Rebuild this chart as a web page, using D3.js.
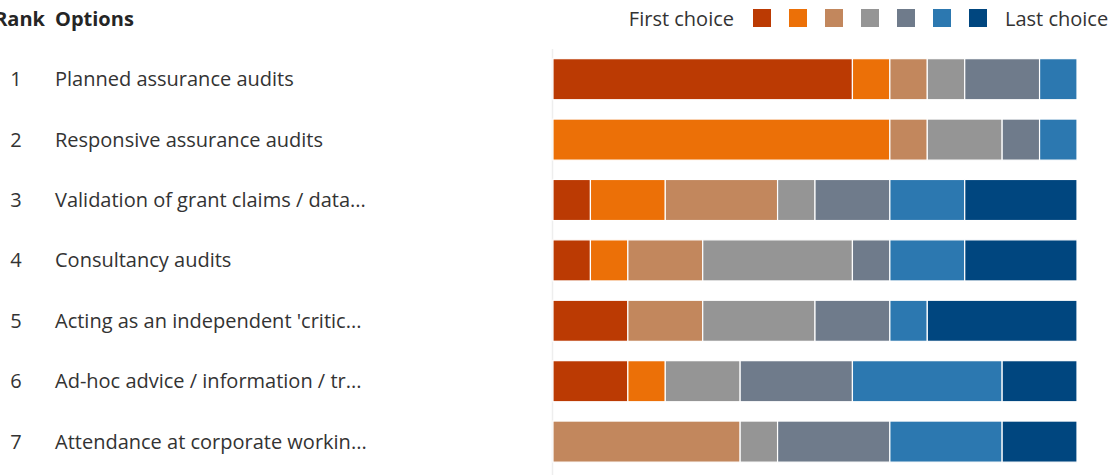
<!DOCTYPE html>
<html>
<head>
<meta charset="utf-8">
<script src="https://cdn.jsdelivr.net/npm/d3@7"></script>
<style>
  html, body { margin: 0; padding: 0; background: #fff; }
  svg { display: block; font-family: "Open Sans", "Noto Sans", sans-serif; }
</style>
</head>
<body>
<svg id="chart" width="1118" height="475"></svg>
<script>
// Ranked options, with respondent counts per rank position (first choice → last choice)
const ranks = [1, 2, 3, 4, 5, 6, 7];
const options = [
  "Planned assurance audits",
  "Responsive assurance audits",
  "Validation of grant claims / data...",
  "Consultancy audits",
  "Acting as an independent 'critic...",
  "Ad-hoc advice / information / tr...",
  "Attendance at corporate workin..."
];
const choiceKeys = ["c1", "c2", "c3", "c4", "c5", "c6", "c7"];
const choice1 = [8, 0, 1, 1, 2, 2, 0];
const choice2 = [1, 9, 2, 1, 0, 1, 0];
const choice3 = [1, 1, 3, 2, 2, 0, 5];
const choice4 = [1, 2, 1, 4, 3, 2, 1];
const choice5 = [2, 1, 2, 1, 2, 3, 3];
const choice6 = [1, 1, 2, 2, 1, 4, 3];
const choice7 = [0, 0, 3, 3, 4, 2, 2];
const colors = ["#bb3a03", "#ec7007", "#c2875d", "#959595", "#6f7b8b", "#2c78b0", "#00467f"];
const legendFirst = "First choice";
const legendLast = "Last choice";

const rows = options.map((name, i) => ({
  rank: ranks[i], name,
  c1: choice1[i], c2: choice2[i], c3: choice3[i], c4: choice4[i],
  c5: choice5[i], c6: choice6[i], c7: choice7[i]
}));

const svg = d3.select("#chart");
const margin = { top: 49, left: 553, right: 41 };
const plotW = 1118 - margin.left - margin.right;

const total = d3.max(rows, r => d3.sum(choiceKeys, k => r[k]));
const x = d3.scaleLinear().domain([0, total]).range([margin.left, margin.left + plotW]);
const y = d3.scaleBand().domain(options).range([margin.top, margin.top + 60.4 * options.length]).paddingInner(0.32).paddingOuter(0.16);

const stack = d3.stack().keys(choiceKeys)(rows);

// light baseline at the start of the bars
svg.append("line")
  .attr("x1", margin.left - 0.5).attr("x2", margin.left - 0.5)
  .attr("y1", margin.top).attr("y2", 475)
  .attr("stroke", "#eeeeee").attr("stroke-width", 1.5);

svg.append("g").selectAll("g").data(stack).join("g")
  .attr("fill", (d, i) => colors[i])
  .selectAll("rect").data(d => d).join("rect")
  .attr("x", d => x(d[0]))
  .attr("y", d => y(d.data.name))
  .attr("width", d => Math.max(0, x(d[1]) - x(d[0])))
  .attr("height", y.bandwidth())
  .attr("stroke", "#fff").attr("stroke-width", 1.2);

// header (the table is scrolled slightly, so "Rank" starts just off the left edge)
const header = svg.append("g").attr("font-weight", 700).attr("font-size", 20).attr("fill", "#252525");
header.append("text").attr("x", 45).attr("y", 26).attr("text-anchor", "end").text("Rank");
header.append("text").attr("x", 55).attr("y", 26).text("Options");

// row labels
const labels = svg.append("g").attr("font-size", 20).attr("fill", "#333");
labels.selectAll("text.rank").data(rows).join("text").attr("class", "rank")
  .attr("x", 16).attr("text-anchor", "middle")
  .attr("y", d => y(d.name) + y.bandwidth() / 2).attr("dy", "0.35em")
  .text(d => d.rank);
labels.selectAll("text.name").data(rows).join("text").attr("class", "name")
  .attr("x", 55)
  .attr("y", d => y(d.name) + y.bandwidth() / 2).attr("dy", "0.35em")
  .text(d => d.name);

// legend
const legend = svg.append("g").attr("font-size", 20).attr("fill", "#333");
legend.append("text").attr("x", 734).attr("y", 26).attr("text-anchor", "end").text(legendFirst);
legend.selectAll("rect").data(colors).join("rect")
  .attr("x", (d, i) => 753 + i * 36).attr("y", 9)
  .attr("width", 18).attr("height", 18).attr("fill", d => d);
legend.append("text").attr("x", 1005).attr("y", 26).text(legendLast);
</script>
</body>
</html>
